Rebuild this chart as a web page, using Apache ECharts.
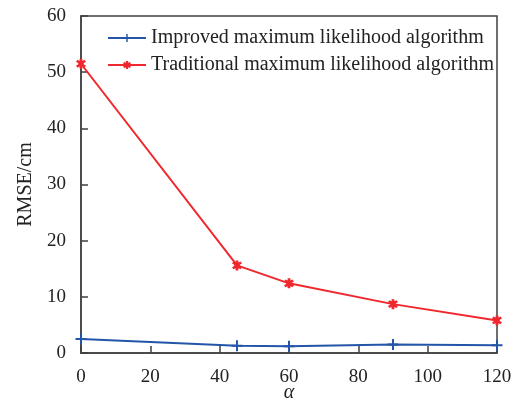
<!DOCTYPE html>
<html><head><meta charset="utf-8">
<script src="https://cdn.jsdelivr.net/npm/echarts@6/dist/echarts.min.js"></script>
<style>html,body{margin:0;padding:0;background:#fff}#c{width:520px;height:410px}</style>
</head><body><div id="c"></div>
<script>
var alphaValues = [0, 45, 60, 90, 120];
var improved = [2.5, 1.3, 1.2, 1.5, 1.4];
var traditional = [51.5, 15.6, 12.4, 8.7, 5.8];
var seriesNames = ['Improved maximum likelihood algorithm', 'Traditional maximum likelihood algorithm'];

var plusPath = 'path://M4.1,0 L5.9,0 L5.9,4.1 L10,4.1 L10,5.9 L5.9,5.9 L5.9,10 L4.1,10 L4.1,5.9 L0,5.9 L0,4.1 L4.1,4.1 Z';
var starPath = 'path://M3.8,0 L6.2,0 L6.2,2.2 L8.1,1.1 L9.3,3.2 L7.4,4.3 L7.4,5.7 L9.3,6.8 L8.1,8.9 L6.2,7.8 L6.2,10 L3.8,10 L3.8,7.8 L1.9,8.9 L0.7,6.8 L2.6,5.7 L2.6,4.3 L0.7,3.2 L1.9,1.1 L3.8,2.2 Z';

function pairs(ys){ return alphaValues.map(function(x,i){ return [x, ys[i]]; }); }

var font = 'Liberation Serif';
var chart = echarts.init(document.getElementById('c'), null, {renderer:'canvas'});
chart.setOption({
  animation:false,
  textStyle:{fontFamily:font},
  grid:{left:81, right:23, top:16, bottom:57, show:true, borderColor:'#404040', borderWidth:1.5, backgroundColor:'transparent', outerBoundsMode:'none', containLabel:false},
  legend:{
    orient:'vertical', left:102, top:23, itemWidth:38, itemHeight:10, itemGap:7,
    textStyle:{fontFamily:font, fontSize:20, color:'#222'},
    data:[seriesNames[0], seriesNames[1]]
  },
  xAxis:{
    type:'value', min:0, max:120, interval:20,
    name:'α', nameLocation:'middle', nameGap:30, nameMoveOverlap:false,
    nameTextStyle:{fontFamily:font, fontStyle:'italic', fontSize:20, color:'#222'},
    axisLine:{onZero:false, lineStyle:{color:'#404040', width:1.5}},
    axisTick:{inside:true, length:7, lineStyle:{color:'#404040', width:1.5}},
    axisLabel:{fontFamily:font, fontSize:19, color:'#222', margin:15},
    splitLine:{show:false}
  },
  yAxis:{
    type:'value', min:0, max:60, interval:10,
    name:'RMSE/cm', nameLocation:'middle', nameGap:45, nameRotate:90, nameMoveOverlap:false,
    nameTextStyle:{fontFamily:font, fontSize:20, color:'#222'},
    axisLine:{show:true, lineStyle:{color:'#404040', width:1.5}},
    axisTick:{show:true, inside:true, length:7, lineStyle:{color:'#404040', width:1.5}},
    axisLabel:{fontFamily:font, fontSize:19, color:'#222', margin:15},
    splitLine:{show:false}
  },
  series:[
    {name:seriesNames[0], type:'line', data:pairs(improved), symbol:plusPath, symbolSize:11,
     lineStyle:{color:'#2356a8', width:2}, itemStyle:{color:'#2356a8'}},
    {name:seriesNames[1], type:'line', data:pairs(traditional), symbol:starPath, symbolSize:10,
     lineStyle:{color:'#f0282d', width:2}, itemStyle:{color:'#f0282d'}}
  ]
});
</script></body></html>
